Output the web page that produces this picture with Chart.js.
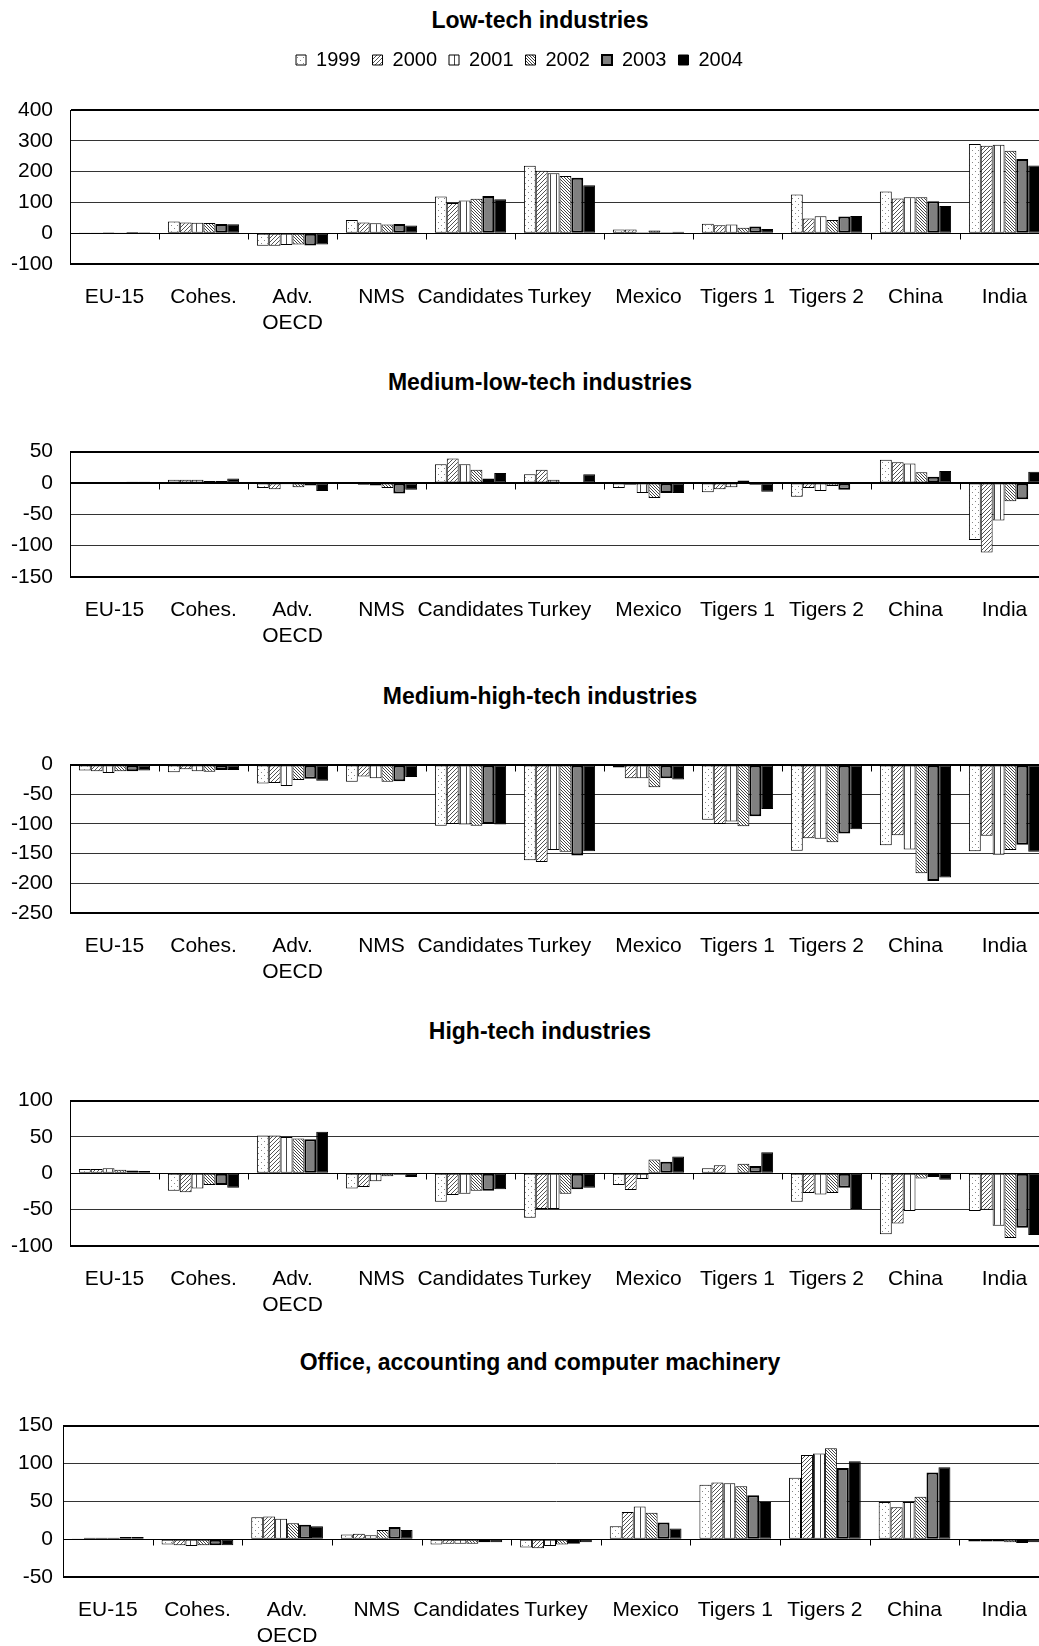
<!DOCTYPE html>
<html>
<head>
<meta charset="utf-8">
<script src="https://cdn.jsdelivr.net/npm/chart.js@4.4.1/dist/chart.umd.min.js"></script>
<style>
html, body { margin: 0; padding: 0; background: #fff; overflow: hidden; width: 1039px; height: 1646px; }
.title { position: absolute; left: 0; width: 1080px; text-align: center; font: bold 23px "Liberation Sans", Arial, sans-serif; line-height: 24px; color: #000; }
.box { position: absolute; left: -10px; width: 1062px; }
</style>
</head>
<body>
<div class="title" style="top:8px">Low-tech industries</div>
<div class="box" style="top:38px;height:318px"><canvas id="chartLow"></canvas></div>
<div class="title" style="top:370px">Medium-low-tech industries</div>
<div class="box" style="top:422px;height:247px"><canvas id="chartMedLow"></canvas></div>
<div class="title" style="top:684px">Medium-high-tech industries</div>
<div class="box" style="top:735px;height:270px"><canvas id="chartMedHigh"></canvas></div>
<div class="title" style="top:1019px">High-tech industries</div>
<div class="box" style="top:1071px;height:267px"><canvas id="chartHigh"></canvas></div>
<div class="title" style="top:1350px">Office, accounting and computer machinery</div>
<div class="box" style="top:1403px;height:266px"><canvas id="chartOffice"></canvas></div>
<script>
var categories = ['EU-15', 'Cohes.', ['Adv.', 'OECD'], 'NMS', 'Candidates', 'Turkey', 'Mexico', 'Tigers 1', 'Tigers 2', 'China', 'India'];
var years = ['1999', '2000', '2001', '2002', '2003', '2004'];

// one row per year, in the order of categories
var lowTech = [
    [2, 38, -41, 43, 119, 219, 12, 31, 126, 135, 290],
    [2, 35, -41, 35, 98, 203, 12, 26, 48, 113, 284],
    [3, 34, -38, 32, 106, 195, 3, 28, 55, 117, 287],
    [2, 33, -37, 28, 112, 186, 9, 18, 43, 117, 268],
    [4, 30, -40, 30, 121, 180, 3, 22, 54, 104, 241],
    [3, 29, -37, 25, 110, 156, 5, 14, 56, 88, 220]
];
var medLowTech = [
    [0, 5, -8, 1, 30, 14, -8, -15, -22, 37, -91],
    [0, 5, -10, -3, 39, 21, -3, -10, -8, 33, -111],
    [0, 5, -2, -4, 30, 5, -16, -7, -13, 31, -60],
    [1, 3, -7, -8, 21, -1, -24, 4, -5, 17, -29],
    [2, 3, -4, -17, 7, -1, -16, -3, -11, 10, -26],
    [2, 7, -13, -11, 16, 14, -16, -14, 0, 19, 18]
];
var medHighTech = [
    [-10, -13, -32, -29, -103, -161, -5, -93, -145, -136, -146],
    [-11, -8, -31, -20, -100, -164, -23, -100, -124, -119, -120],
    [-14, -11, -36, -23, -101, -144, -23, -96, -125, -143, -152],
    [-11, -12, -26, -29, -103, -147, -38, -104, -131, -183, -144],
    [-11, -9, -24, -28, -100, -153, -23, -87, -116, -196, -135],
    [-10, -9, -27, -21, -101, -146, -25, -75, -109, -190, -147]
];
var highTech = [
    [6, -24, 52, -21, -39, -61, -16, 7, -39, -84, -52],
    [6, -26, 52, -19, -30, -49, -23, 11, -27, -69, -50],
    [7, -21, 50, -11, -28, -49, -8, 1, -29, -52, -72],
    [5, -16, 48, -4, -24, -28, 19, 13, -27, -7, -89],
    [4, -16, 47, -2, -24, -22, 16, 10, -20, -5, -75],
    [3, -20, 57, -5, -22, -20, 23, 29, -49, -9, -85]
];
var office = [
    [1, -7, 29, 6, -7, -11, 17, 72, 81, 49, -3],
    [2, -8, 30, 7, -6, -12, 36, 75, 111, 42, -3],
    [2, -9, 27, 5, -6, -9, 43, 74, 113, 49, -3],
    [2, -8, 21, 12, -6, -7, 35, 70, 120, 56, -4],
    [3, -8, 19, 16, -4, -6, 22, 58, 94, 88, -5],
    [3, -8, 17, 12, -4, -4, 14, 49, 103, 95, -4]
];

Chart.defaults.font.family = '"Liberation Sans", Arial, sans-serif';
Chart.defaults.font.size = 21;
Chart.defaults.color = '#000';

function makePattern(w, h, dots, color) {
    var c = document.createElement('canvas');
    c.width = w;
    c.height = h;
    var g = c.getContext('2d');
    g.fillStyle = '#fff';
    g.fillRect(0, 0, w, h);
    g.fillStyle = color;
    for (var i = 0; i < dots.length; i++) {
        g.fillRect(dots[i][0], dots[i][1], 1, 1);
    }
    return g.createPattern(c, 'repeat');
}

var fills = [
    makePattern(6, 6, [[1, 1], [4, 4]], '#888'),
    makePattern(4, 4, [[3, 0], [2, 1], [1, 2], [0, 3]], '#555'),
    makePattern(6, 1, [[2, 0]], '#444'),
    makePattern(3, 3, [[0, 0], [1, 1], [2, 2]], '#444'),
    '#808080',
    '#000000'
];
var borders = [1, 1, 1, 1, 2, 1];

// small marks on the zero line between categories
var catTicks = {
    id: 'catTicks',
    afterDatasetsDraw: function(chart) {
        var x = chart.scales.x, y = chart.scales.y, ctx = chart.ctx;
        var y0 = Math.round(y.getPixelForValue(0)) + 0.5;
        ctx.save();
        ctx.strokeStyle = '#000';
        ctx.lineWidth = 1;
        ctx.beginPath();
        ctx.moveTo(chart.chartArea.left, y0);
        ctx.lineTo(chart.chartArea.right, y0);
        for (var i = 1; i < categories.length; i++) {
            var px = Math.round((x.getPixelForValue(i - 1) + x.getPixelForValue(i)) / 2) + 0.5;
            ctx.moveTo(px, y0);
            ctx.lineTo(px, y0 + 6);
        }
        ctx.stroke();
        ctx.restore();
    }
};

function makeChart(id, rows, yMin, yMax, step, axisWidth, tickPad, showLegend) {
    var datasets = [];
    for (var i = 0; i < years.length; i++) {
        datasets.push({
            label: years[i],
            data: rows[i],
            backgroundColor: fills[i],
            borderColor: '#000',
            borderWidth: borders[i],
            borderSkipped: false,
            categoryPercentage: 0.8,
            barPercentage: 1.0
        });
    }
    return new Chart(document.getElementById(id), {
        type: 'bar',
        data: { labels: categories, datasets: datasets },
        plugins: [catTicks],
        options: {
            responsive: true,
            maintainAspectRatio: false,
            animation: false,
            events: [],
            layout: { padding: { top: showLegend ? 0 : 20, right: 3, bottom: 0, left: 0 } },
            plugins: {
                tooltip: { enabled: false },
                legend: {
                    display: showLegend,
                    labels: { boxWidth: 10, boxHeight: 10, padding: 12, font: { size: 20 } }
                },
                subtitle: {
                    display: showLegend,
                    text: ' ',
                    weight: 500,
                    font: { size: 10 },
                    padding: { top: 0, bottom: 18 }
                }
            },
            scales: {
                x: {
                    grid: { display: false },
                    border: { display: false },
                    ticks: { autoSkip: false, maxRotation: 0, minRotation: 0, padding: 12, font: { size: 21, lineHeight: 1.25 } },
                    afterFit: function(scale) { scale.height = 92; }
                },
                y: {
                    min: yMin,
                    max: yMax,
                    ticks: { stepSize: step, padding: tickPad, font: { size: 21 } },
                    grid: {
                        drawTicks: false,
                        color: function(c) { return (c.tick.value === yMin || c.tick.value === yMax || c.tick.value === 0) ? '#000' : '#333'; },
                        lineWidth: function(c) { return (c.tick.value === yMin || c.tick.value === yMax) ? 2 : 1; }
                    },
                    border: { color: '#000', width: 1 },
                    afterFit: function(scale) { scale.width = axisWidth; }
                }
            }
        }
    });
}

makeChart('chartLow', lowTech, -100, 400, 100, 80, 17, true);
makeChart('chartMedLow', medLowTech, -150, 50, 50, 80, 17, false);
makeChart('chartMedHigh', medHighTech, -250, 0, 50, 80, 17, false);
makeChart('chartHigh', highTech, -100, 100, 50, 80, 17, false);
makeChart('chartOffice', office, -50, 150, 50, 73, 10, false);
</script>
</body>
</html>
